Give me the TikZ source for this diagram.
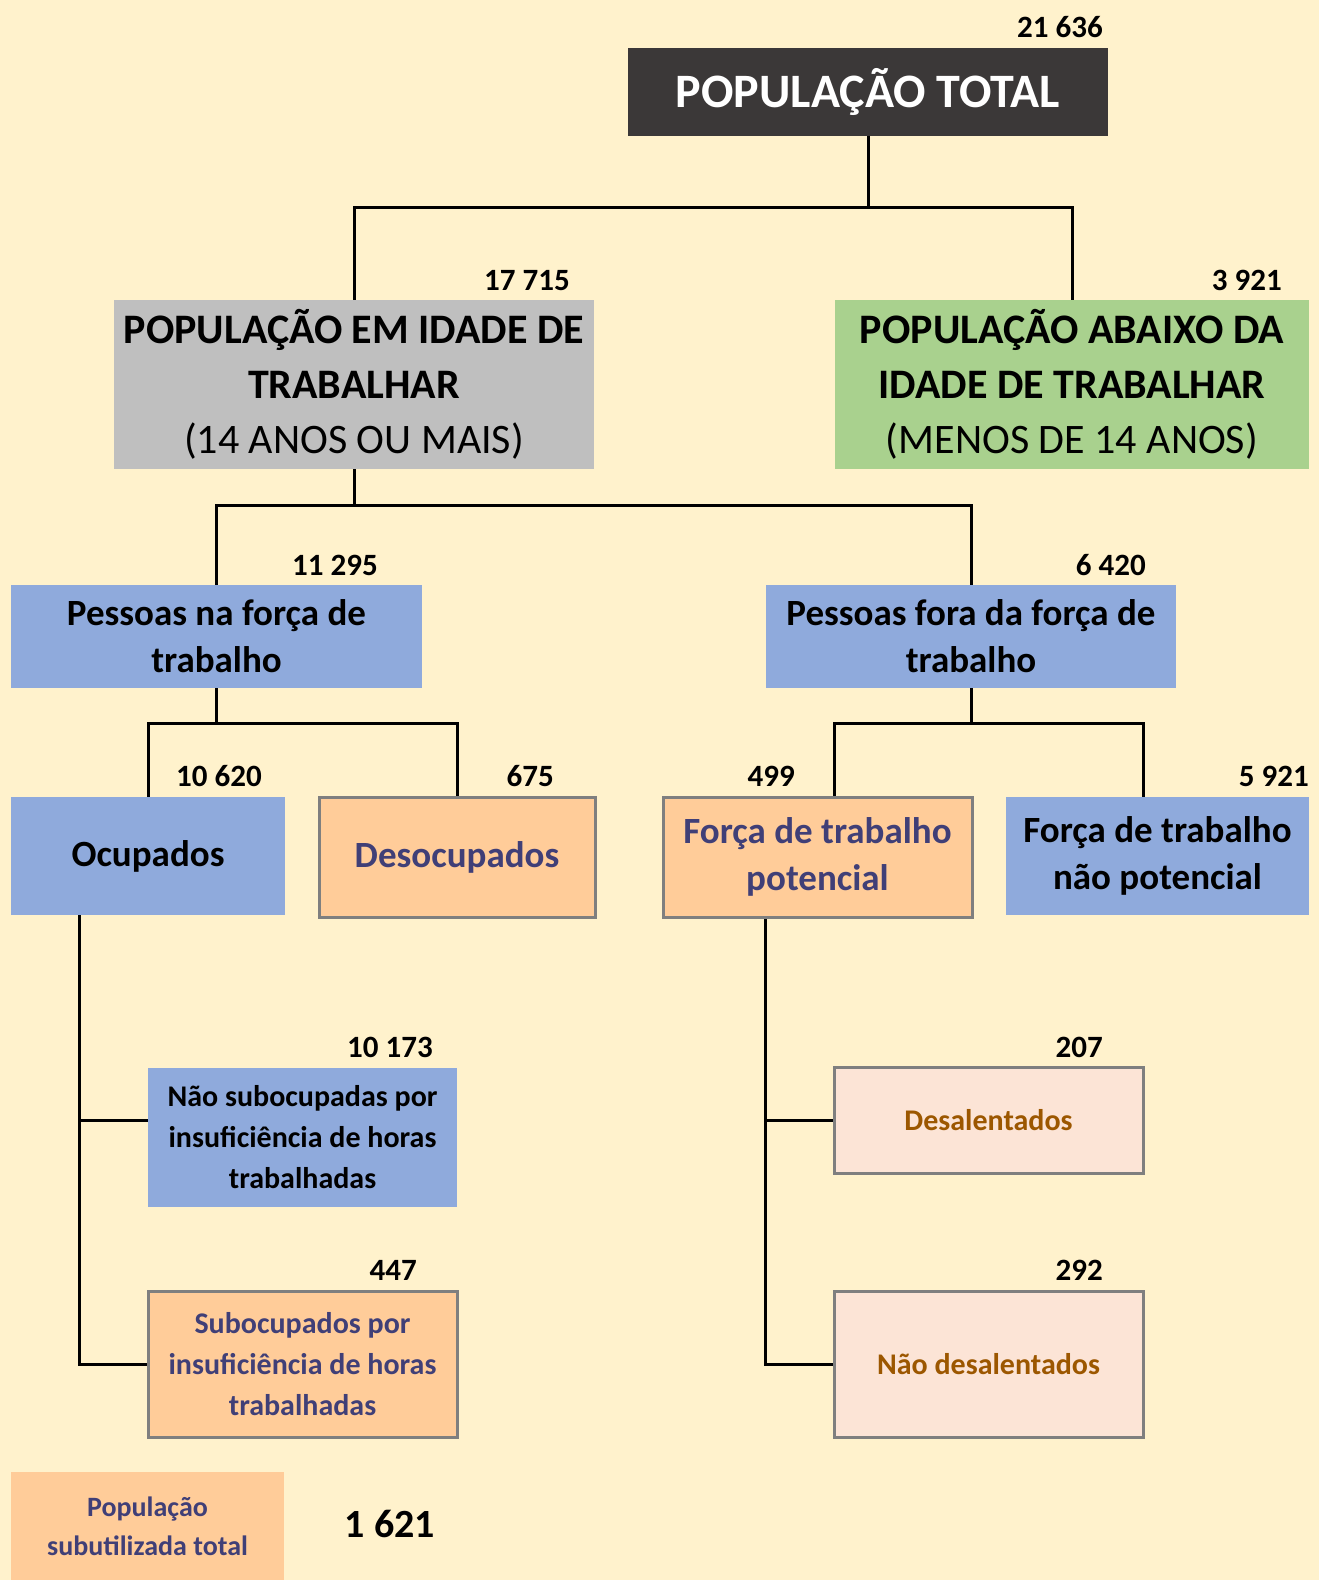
\documentclass[tikz,border=0pt]{standalone}
\usepackage{fontspec}
\setmainfont{Carlito}
\usepackage{tikz}
\usepackage{xcolor}
\definecolor{fundo}{HTML}{FFF2CC}
\definecolor{escuro}{HTML}{3B3838}
\definecolor{cinza}{HTML}{BFBFBF}
\definecolor{verde}{HTML}{A9D18E}
\definecolor{azul}{HTML}{8FAADC}
\definecolor{laranja}{HTML}{FFCC99}
\definecolor{rosa}{HTML}{FCE4D6}
\definecolor{roxo}{HTML}{403F77}
\definecolor{marrom}{HTML}{9C5700}
\definecolor{borda}{HTML}{7F7F7F}

\tikzset{
    caixa/.style={rectangle, inner sep=0pt, align=center, font=\bfseries\fontsize{37}{47}\selectfont},
    grande/.style={caixa, font=\bfseries\fontsize{42}{55}\selectfont},
    pequena/.style={caixa, font=\bfseries\fontsize{30}{41}\selectfont},
    contorno/.style={draw=borda, line width=3pt},
    numero/.style={anchor=base east, inner sep=0pt, font=\bfseries\fontsize{31}{36}\selectfont},
    ligacao/.style={line width=3pt, black},
}

\begin{document}
\begin{tikzpicture}[x=1pt, y=-1pt]
                \useasboundingbox (0,0) rectangle (1319,1580);
                \fill[fundo] (0,0) rectangle (1319,1580);
                % caixas
                \node[caixa, fill=escuro, text=white, minimum width=480pt, minimum height=88pt, font=\bfseries\fontsize{48}{52}\selectfont] (total) at (868,92) {POPULAÇÃO TOTAL};
                \node[grande, fill=cinza, minimum width=480pt, minimum height=169pt] (idade) at (354,384.5) {POPULAÇÃO EM IDADE DE\\TRABALHAR\\{\mdseries (14 ANOS OU MAIS)}};
                \node[grande, fill=verde, minimum width=474pt, minimum height=169pt] (abaixo) at (1072,384.5) {POPULAÇÃO ABAIXO DA\\IDADE DE TRABALHAR\\{\mdseries (MENOS DE 14 ANOS)}};
                \node[caixa, fill=azul, minimum width=411pt, minimum height=103pt] (forca) at (216.5,636.5) {Pessoas na força de\\trabalho};
                \node[caixa, fill=azul, minimum width=410pt, minimum height=103pt] (fora) at (971,636.5) {Pessoas fora da força de\\trabalho};
                \node[caixa, fill=azul, minimum width=274pt, minimum height=118pt] (ocup) at (148,856) {Ocupados};
                \node[caixa, contorno, fill=laranja, text=roxo, minimum width=276pt, minimum height=120pt] (desoc) at (457,857) {Desocupados};
                \node[caixa, contorno, fill=laranja, text=roxo, minimum width=309pt, minimum height=120pt] (pot) at (817.5,857) {Força de trabalho\\potencial};
                \node[caixa, fill=azul, minimum width=303pt, minimum height=118pt] (naopot) at (1157.5,856) {Força de trabalho\\não potencial};
                \node[pequena, fill=azul, minimum width=309pt, minimum height=139pt] (naosub) at (302.5,1137.5) {Não subocupadas por\\insuficiência de horas\\trabalhadas};
                \node[pequena, contorno, fill=laranja, text=roxo, minimum width=309pt, minimum height=146pt] (sub) at (302.5,1364) {Subocupados por\\insuficiência de horas\\trabalhadas};
                \node[pequena, contorno, fill=rosa, text=marrom, minimum width=309pt, minimum height=106pt] (desal) at (988.5,1120) {Desalentados};
                \node[pequena, contorno, fill=rosa, text=marrom, minimum width=309pt, minimum height=146pt] (naodesal) at (988.5,1364) {Não desalentados};
                \node[caixa, fill=laranja, text=roxo, minimum width=273pt, minimum height=108pt, font=\bfseries\fontsize{28}{39}\selectfont] (subut) at (147.5,1526) {População\\subutilizada total};
                \node[caixa, font=\bfseries\fontsize{40}{46}\selectfont] (vsubut) at (390,1524) {1 621};
                % numeros
                \foreach \x/\y/\t/\n in {1103/37/21 636/ntotal, 570/290/17 715/nidade, 1282/290/3 921/nabaixo,
                        378/575/11 295/nforca, 1146/575/6 420/nfora, 262/786/10 620/nocup, 554/786/675/ndesoc,
                        795/786/499/npot, 1309/786/5 921/nnaopot, 433/1057/10 173/nnaosub, 417/1280/447/nsub,
                        1103/1057/207/ndesal, 1103/1280/292/nnaodesal} {
                        \node[numero] (\n) at (\x,\y) {\t};
                    }
                % ligacoes
                \coordinate (j1) at (868,207);
                \coordinate (j2) at (354,505);
                \coordinate (j3) at (216.5,723);
                \coordinate (j4) at (971,723);
                \draw[ligacao] (total.south) -- (j1);
                \draw[ligacao] (idade.north) |- (j1) -| (abaixo.north);
                \draw[ligacao] (idade.south) -- (j2);
                \draw[ligacao] (forca.north) |- (j2) -| (fora.north);
                \draw[ligacao] (forca.south) -- (j3);
                \draw[ligacao] (ocup.north) |- (j3) -| (desoc.north);
                \draw[ligacao] (fora.south) -- (j4);
                \draw[ligacao] ([xshift=16.5pt]pot.north) |- (j4) -| ([xshift=-14.5pt]naopot.north);
                \draw[ligacao] (sub.west) -| ([xshift=-69pt]ocup.south);
                \draw[ligacao] ([yshift=17.5pt]naosub.west) -| ([xshift=-69pt]ocup.south);
                \draw[ligacao] (naodesal.west) -| ([xshift=-52.5pt]pot.south);
                \draw[ligacao] (desal.west) -| ([xshift=-52.5pt]pot.south);
            \end{tikzpicture}
\end{document}
